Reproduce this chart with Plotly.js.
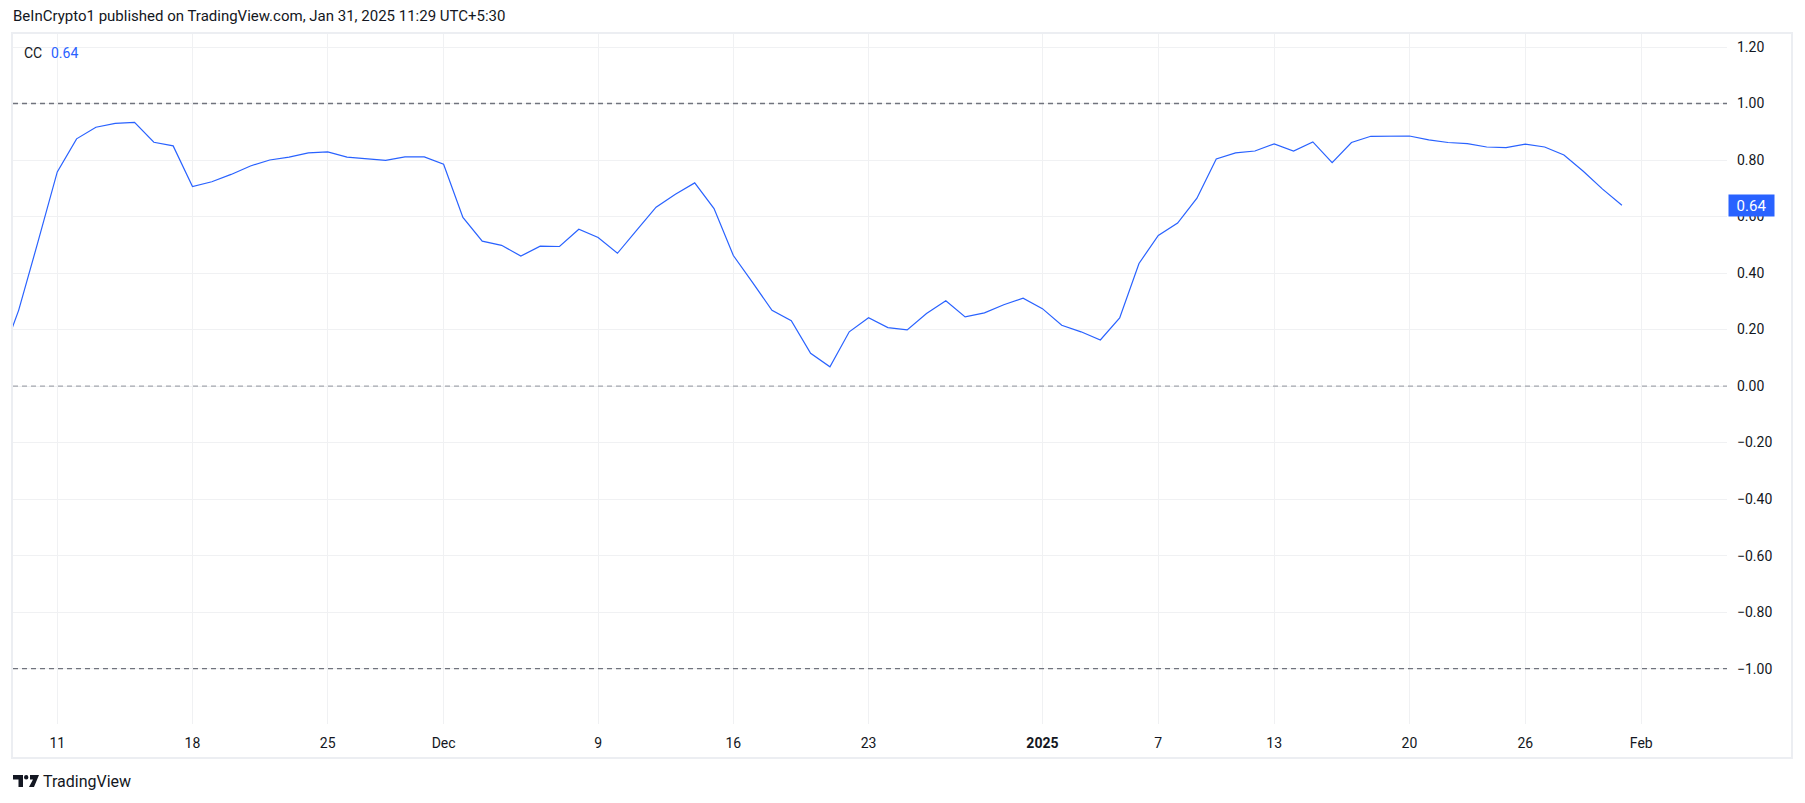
<!DOCTYPE html>
<html>
<head>
<meta charset="utf-8">
<script src="https://cdn.plot.ly/plotly-3.0.1.min.js"></script>
<style>
html,body{margin:0;padding:0;background:#fff;}
#chart{width:1805px;height:803px;}
</style>
</head>
<body>
<div id="chart"></div>
<script>
// ---- data ----
const dates = [
 "2024-11-08","2024-11-09","2024-11-10","2024-11-11","2024-11-12","2024-11-13","2024-11-14","2024-11-15",
 "2024-11-16","2024-11-17","2024-11-18","2024-11-19","2024-11-20","2024-11-21","2024-11-22","2024-11-23",
 "2024-11-24","2024-11-25","2024-11-26","2024-11-27","2024-11-28","2024-11-29","2024-11-30","2024-12-01",
 "2024-12-02","2024-12-03","2024-12-04","2024-12-05","2024-12-06","2024-12-07","2024-12-08","2024-12-09",
 "2024-12-10","2024-12-11","2024-12-12","2024-12-13","2024-12-14","2024-12-15","2024-12-16","2024-12-17",
 "2024-12-18","2024-12-19","2024-12-20","2024-12-21","2024-12-22","2024-12-23","2024-12-24","2024-12-25",
 "2024-12-26","2024-12-27","2024-12-28","2024-12-29","2024-12-30","2024-12-31","2025-01-01","2025-01-02",
 "2025-01-03","2025-01-04","2025-01-05","2025-01-06","2025-01-07","2025-01-08","2025-01-09","2025-01-10",
 "2025-01-11","2025-01-12","2025-01-13","2025-01-14","2025-01-15","2025-01-16","2025-01-17","2025-01-18",
 "2025-01-19","2025-01-20","2025-01-21","2025-01-22","2025-01-23","2025-01-24","2025-01-25","2025-01-26",
 "2025-01-27","2025-01-28","2025-01-29","2025-01-30","2025-01-31"
];
const ccValues = [
 0.08,0.268,0.51,0.758,0.875,0.916,0.930,0.933,
 0.863,0.850,0.706,0.723,0.749,0.779,0.800,0.810,
 0.825,0.829,0.810,0.804,0.799,0.811,0.811,0.785,
 0.597,0.513,0.498,0.460,0.495,0.494,0.555,0.526,
 0.470,0.552,0.633,0.679,0.719,0.628,0.462,0.366,
 0.268,0.231,0.116,0.068,0.192,0.242,0.207,0.199,
 0.257,0.302,0.245,0.259,0.288,0.311,0.274,0.215,
 0.192,0.163,0.241,0.434,0.533,0.577,0.665,0.804,
 0.825,0.832,0.857,0.832,0.864,0.791,0.862,0.884,
 0.885,0.885,0.871,0.862,0.858,0.846,0.844,0.856,
 0.846,0.818,0.760,0.697,0.64
];
const xTickVals = ["2024-11-11","2024-11-18","2024-11-25","2024-12-01","2024-12-09","2024-12-16","2024-12-23",
 "2025-01-01","2025-01-07","2025-01-13","2025-01-20","2025-01-26","2025-02-01"];
const xTickText = ["11","18","25","Dec","9","16","23","<b>2025</b>","7","13","20","26","Feb"];
const yTickVals = [1.2,1.0,0.8,0.6,0.4,0.2,0,-0.2,-0.4,-0.6,-0.8,-1.0];
const bandLevels = [1.0, 0.0, -1.0];
const lastValueText = "0.64";
const titleText = "BeInCrypto1 published on TradingView.com, Jan 31, 2025 11:29 UTC+5:30";

// ---- geometry helpers ----
const W = 1805, H = 803;
const M = {l:13, r:78, t:34, b:79};
const PW = W - M.l - M.r, PH = H - M.t - M.b;
const px = x => (x - M.l) / PW;
const py = y => 1 - (y - M.t) / PH;
const pathPx = pts => pts.map((p,i)=>(i?'L':'M')+px(p[0]).toFixed(5)+','+py(p[1]).toFixed(5)).join(' ')+' Z';

const FONT = 'Roboto, "Noto Sans", sans-serif';
const TXT = '#131722';

const shapes = [];
bandLevels.forEach(v => {
  shapes.push({type:'line', xref:'paper', yref:'y', x0:0, x1:1, y0:v, y1:v,
    line:{color: v===0 ? '#a3a6ae' : '#70737d', width:1.3, dash:'5px,4px'}, layer:'above'});
});
// outer frame
shapes.push({type:'rect', xref:'paper', yref:'paper', x0:px(12), x1:px(1792), y0:py(33), y1:py(758),
  line:{color:'#eceef2', width:2}, layer:'below'});
// TradingView logo
shapes.push({type:'path', xref:'paper', yref:'paper', path: pathPx([[13,775],[23,775],[23,787],[18.5,787],[18.5,779.5],[13,779.5]]),
  fillcolor:TXT, line:{width:0}});
shapes.push({type:'circle', xref:'paper', yref:'paper', x0:px(24), x1:px(28.4), y0:py(775), y1:py(779.4),
  fillcolor:TXT, line:{width:0}});
shapes.push({type:'path', xref:'paper', yref:'paper', path: pathPx([[30,775],[39,775],[34,787],[29,787],[33,779.5],[30,779.5]]),
  fillcolor:TXT, line:{width:0}});

const annotations = [
  {xref:'paper', yref:'paper', x:px(11), y:py(16), xanchor:'left', yanchor:'middle', showarrow:false,
   text:titleText, font:{family:FONT, size:15, color:TXT}},
  {xref:'paper', yref:'paper', x:px(22), y:py(53), xanchor:'left', yanchor:'middle', showarrow:false,
   text:'CC', font:{family:FONT, size:14, color:TXT}},
  {xref:'paper', yref:'paper', x:px(49), y:py(53), xanchor:'left', yanchor:'middle', showarrow:false,
   text:lastValueText, font:{family:FONT, size:14, color:'#2962ff'}},
  {xref:'paper', yref:'y', x:1, y:ccValues[ccValues.length-1], xanchor:'left', yanchor:'middle', xshift:1,
   showarrow:false, text:lastValueText, bgcolor:'#2962ff', borderpad:3, width:39, height:15, align:'center',
   font:{family:FONT, size:15, color:'#ffffff'}},
  {xref:'paper', yref:'paper', x:px(41), y:py(781), xanchor:'left', yanchor:'middle', showarrow:false,
   text:'TradingView', font:{family:FONT, size:16, color:TXT}}
];

const trace = {
  type:'scatter', mode:'lines', x:dates, y:ccValues,
  line:{color:'#2962ff', width:1.2}, hoverinfo:'skip'
};

const layout = {
  width:W, height:H, margin:M, showlegend:false,
  paper_bgcolor:'#ffffff', plot_bgcolor:'#ffffff',
  xaxis:{type:'date', range:['2024-11-08 17:00','2025-02-05 10:35'],
    tickmode:'array', tickvals:xTickVals, ticktext:xTickText,
    showgrid:true, gridcolor:'#f0f1f3', gridwidth:1, zeroline:false, showline:false,
    ticks:'', ticklabelstandoff:9, tickfont:{family:FONT, size:14, color:TXT}, fixedrange:true},
  yaxis:{side:'right', range:[-1.196, 1.246], tickmode:'array', tickvals:yTickVals,
    tickformat:'.2f', showgrid:true, gridcolor:'#f0f1f3', gridwidth:1, zeroline:false, showline:false,
    ticks:'', ticklabelstandoff:9, tickfont:{family:FONT, size:14, color:TXT}, fixedrange:true},
  shapes:shapes, annotations:annotations, hovermode:false
};

Plotly.newPlot('chart', [trace], layout, {displayModeBar:false, staticPlot:true});
</script>
</body>
</html>
